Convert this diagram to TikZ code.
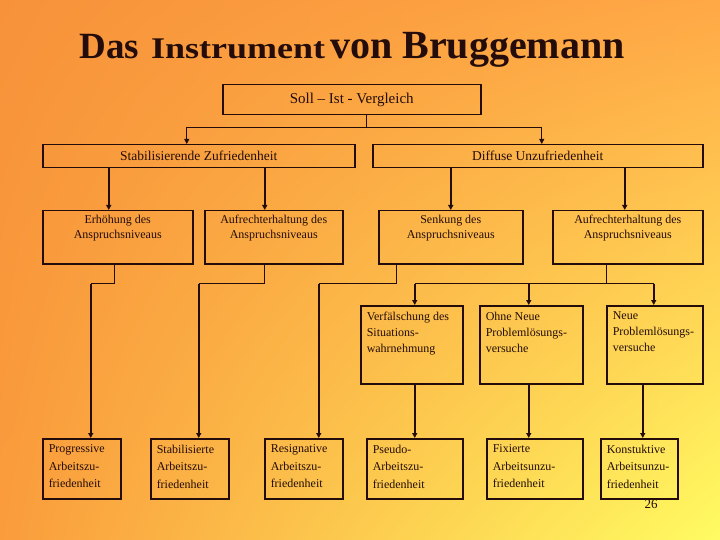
\documentclass[tikz,border=0pt]{standalone}
\usepackage{fontspec}
\setmainfont{Liberation Serif}
\usepackage{graphicx}
\usetikzlibrary{arrows.meta}
\usetikzlibrary{shadings}

\definecolor{ink}{RGB}{35,12,10}
\definecolor{bgul}{RGB}{247,146,58}
\definecolor{bgur}{RGB}{255,168,70}
\definecolor{bgll}{RGB}{250,156,60}
\definecolor{bglr}{RGB}{255,252,98}

\newcommand{\boxtext}[3]{\parbox[t][#2pt][t]{#1pt}{#3}}

\begin{document}
\begin{tikzpicture}[x=1pt, y=-1pt,
    box/.style={draw=ink, line width=1.5pt, anchor=north west, text=ink, inner sep=0pt},
    mid/.style={box, inner xsep=4pt, inner ysep=4pt, font=\fontsize{12}{15}\selectfont},
    sub/.style={box, inner xsep=6pt, inner ysep=6pt, font=\fontsize{12}{16}\selectfont},
    leaf/.style={box, inner xsep=6pt, inner ysep=6pt, font=\fontsize{12}{17.5}\selectfont},
    fine/.style={draw=ink, line width=0.8pt},
    heavy/.style={draw=ink, line width=1.6pt},
    arr/.style={-{Triangle[length=5pt,width=5pt]}}]

    \shade[upper left=bgul, upper right=bgur, lower left=bgll, lower right=bglr]
        (0,0) rectangle (720,540);
    \useasboundingbox (0,0) rectangle (720,540);

    \node[anchor=base west, text=ink, font=\bfseries] (title) at (76,59)
        {{\fontsize{37}{40}\selectfont Das}\hspace{12pt}\scalebox{1.2}[1]{\fontsize{30}{32}\selectfont Instrument}\hspace{5pt}{\fontsize{40}{44}\selectfont von Bruggemann}};

    % oben
    \node[box, minimum width=258, minimum height=30, font=\fontsize{15}{17}\selectfont] (soll) at (222,84) {Soll – Ist - Vergleich};
    \node[box, minimum width=312, minimum height=23, font=\fontsize{13.5}{15}\selectfont] (stab) at (42,144) {Stabilisierende Zufriedenheit};
    \node[box, minimum width=330, minimum height=23, font=\fontsize{13.5}{15}\selectfont] (diff) at (372,144) {Diffuse Unzufriedenheit};

    % Anspruchsniveau
    \node[mid] (erh)  at (42,210)  {\boxtext{142}{45}{\centering Erhöhung des\\Anspruchsniveaus}};
    \node[mid] (aufa) at (204,210) {\boxtext{130}{45}{\centering Aufrechterhaltung des\\Anspruchsniveaus}};
    \node[mid] (senk) at (378,210) {\boxtext{136}{45}{\centering Senkung des\\Anspruchsniveaus}};
    \node[mid] (aufb) at (552,210) {\boxtext{142}{45}{\centering Aufrechterhaltung des\\Anspruchsniveaus}};

    % Problemloesung
    \node[sub] (verf) at (360,305) {\boxtext{90}{66}{\raggedright Verfälschung des\\Situations-\\wahrnehmung}};
    \node[sub] (ohne) at (479,305) {\boxtext{91}{66}{\raggedright Ohne Neue\\Problemlösungs-\\versuche}};
    \node[sub] (neue) at (606,305) {\boxtext{84}{66}{\raggedright Neue\\Problemlösungs-\\versuche}};

    % Formen der Arbeitszufriedenheit
    \node[leaf] (prog)   at (42,438)  {\boxtext{66}{48}{\raggedright Progressive\\Arbeitszu-\\friedenheit}};
    \node[leaf] (stabi)  at (150,438) {\boxtext{66}{48}{\raggedright Stabilisierte\\Arbeitszu-\\friedenheit}};
    \node[leaf] (resig)  at (264,438) {\boxtext{66}{48}{\raggedright Resignative\\Arbeitszu-\\friedenheit}};
    \node[leaf] (pseudo) at (366,438) {\boxtext{84}{48}{\raggedright Pseudo-\\Arbeitszu-\\friedenheit}};
    \node[leaf] (fix)    at (486,438) {\boxtext{84}{48}{\raggedright Fixierte\\Arbeitsunzu-\\friedenheit}};
    \node[leaf] (konst)  at (600,438) {\boxtext{65}{48}{\raggedright Konstuktive\\Arbeitsunzu-\\friedenheit}};

    \node[text=ink, font=\fontsize{13}{15}\selectfont] (pnum) at (651,504) {26};

    % Soll-Ist
    \draw[fine] ([xshift=15pt]soll.south) -- ++(0,12) coordinate (s1);
    \draw[fine, arr] (s1) -| ([xshift=-12pt]stab.north);
    \draw[fine, arr] (s1) -| ([xshift=4pt]diff.north);

    % zweite Ebene
    \coordinate (a1) at ([xshift=-9pt]erh.north);
    \coordinate (a2) at ([xshift=-9pt]aufa.north);
    \coordinate (a3) at (senk.north);
    \coordinate (a4) at ([xshift=-3pt]aufb.north);
    \draw[heavy, arr] (a1 |- stab.south) -- (a1);
    \draw[heavy, arr] (a2 |- stab.south) -- (a2);
    \draw[heavy, arr] (a3 |- diff.south) -- (a3);
    \draw[heavy, arr] (a4 |- diff.south) -- (a4);

    % nach unten
    \draw[fine] ([xshift=-3pt]erh.south) -- ++(0,19) -- ++(-24,0) coordinate (b1);
    \draw[heavy, arr] (b1) -- (b1 |- prog.north);
    \draw[fine] ([xshift=-9pt]aufa.south) -- ++(0,19) -- ++(-66,0) coordinate (b2);
    \draw[heavy, arr] (b2) -- (b2 |- stabi.north);
    \draw[fine] ([xshift=-54pt]senk.south) -- ++(0,19) -- ++(-78,0) coordinate (b3);
    \draw[heavy, arr] (b3) -- (b3 |- resig.north);

    \draw[fine] ([xshift=-21pt]aufb.south) -- ++(0,19) coordinate (b4);
    \draw[fine] (b4) -- ++(-192,0) coordinate (c1) (b4) -- ++(47,0) coordinate (c3);
    \path (b4) ++(-78,0) coordinate (c2);
    \draw[heavy, arr] (c1) -- (c1 |- verf.north);
    \draw[heavy, arr] (c2) -- (c2 |- ohne.north);
    \draw[heavy, arr] (c3) -- (c3 |- neue.north);

    \coordinate (d1) at ([xshift=3pt]verf.south);
    \coordinate (d2) at ([xshift=-2.5pt]ohne.south);
    \coordinate (d3) at ([xshift=-12pt]neue.south);
    \draw[heavy, arr] (d1) -- (d1 |- pseudo.north);
    \draw[heavy, arr] (d2) -- (d2 |- fix.north);
    \draw[heavy, arr] (d3) -- (d3 |- konst.north);

\end{tikzpicture}
\end{document}
